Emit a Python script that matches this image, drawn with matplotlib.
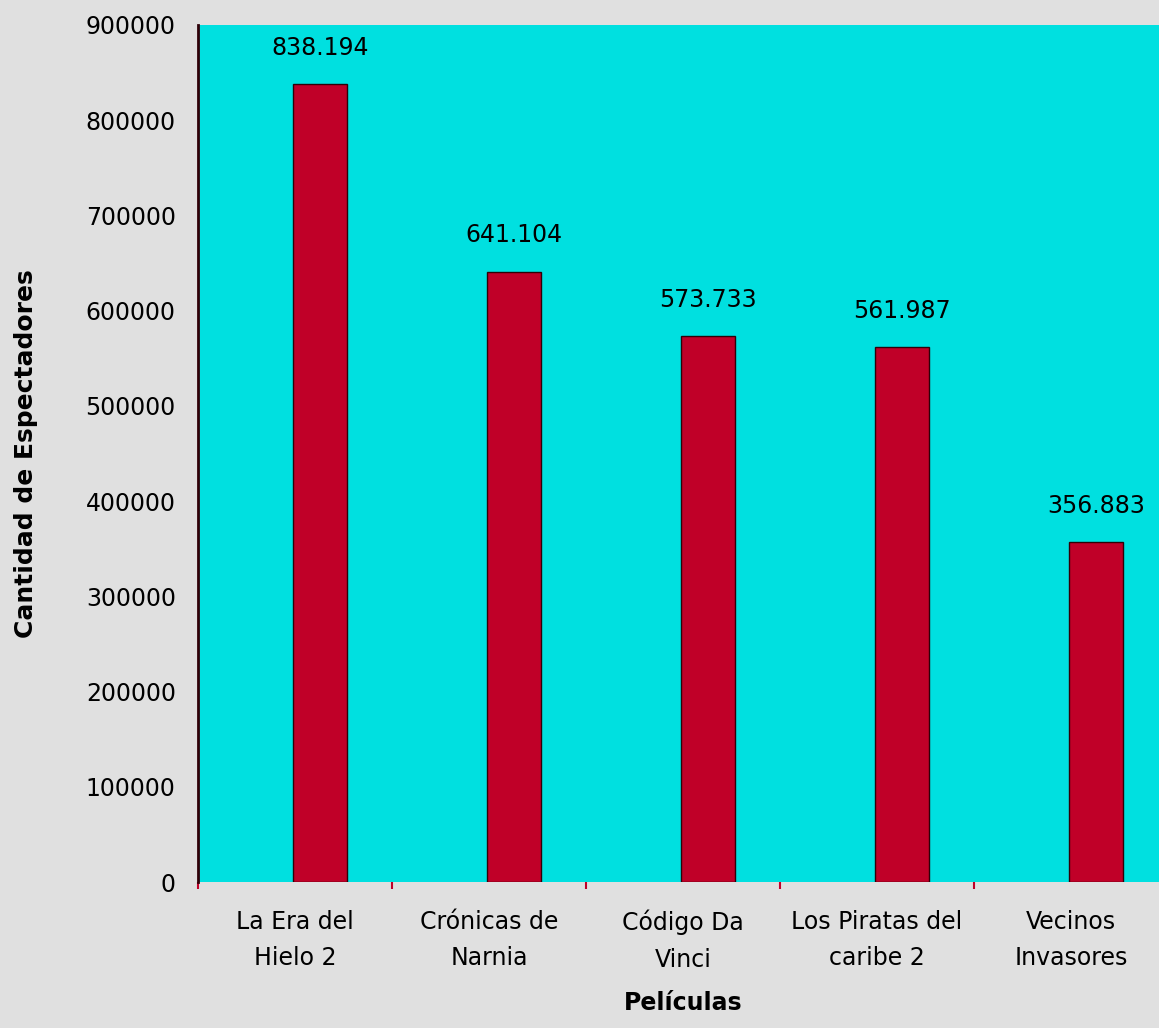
import matplotlib.pyplot as plt
import numpy as np

peliculas = [
    "La Era del\nHielo 2",
    "Crónicas de\nNarnia",
    "Código Da\nVinci",
    "Los Piratas del\ncaribe 2",
    "Vecinos\nInvasores",
]
espectadores = [838194, 641104, 573733, 561987, 356883]
etiquetas = ["838.194", "641.104", "573.733", "561.987", "356.883"]
y_ticks = [0, 100000, 200000, 300000, 400000, 500000, 600000, 700000, 800000, 900000]

plt.rcParams["font.family"] = ["DejaVu Sans"]

fig = plt.figure(figsize=(11.59, 10.28), dpi=100)
fig.set_facecolor("#e0e0e0")
ax = fig.add_axes([198 / 1159, 146 / 1028, 970 / 1159, 857 / 1028])
ax.set_facecolor("#00e0e0")

x = np.arange(len(peliculas))
# bars sit a bit right of the category centre, like the original
xb = x + 0.13
ax.bar(xb, espectadores, width=0.28, color="#c00028", edgecolor="#300008", linewidth=1)

for xi, v, lab in zip(xb, espectadores, etiquetas):
    ax.annotate(lab, (xi, v), xytext=(0, 26), textcoords="offset points",
                ha="center", va="center", fontsize=17)

ax.set_xlim(-0.5, 4.5)
ax.set_ylim(0, 900000)
ax.set_yticks(y_ticks)
ax.set_yticklabels([str(t) for t in y_ticks], fontsize=17)
ax.tick_params(axis="y", length=0, pad=16)

ax.set_xticks(x)
ax.set_xticklabels(peliculas, fontsize=17, linespacing=1.65)
ax.tick_params(axis="x", length=0, pad=20)
ax.set_xticks(np.arange(-0.5, 4.6, 1), minor=True)
ax.tick_params(axis="x", which="minor", length=5, color="#c00028", width=1.5)

for side in ["top", "right", "bottom"]:
    ax.spines[side].set_visible(False)
ax.spines["left"].set_color("#300008")
ax.spines["left"].set_linewidth(2)

ax.set_ylabel("Cantidad de Espectadores", fontsize=18, fontweight="bold", labelpad=34)
ax.set_xlabel("Películas", fontsize=17, fontweight="bold", labelpad=14)

fig.savefig("out.png", dpi=100, facecolor=fig.get_facecolor())
